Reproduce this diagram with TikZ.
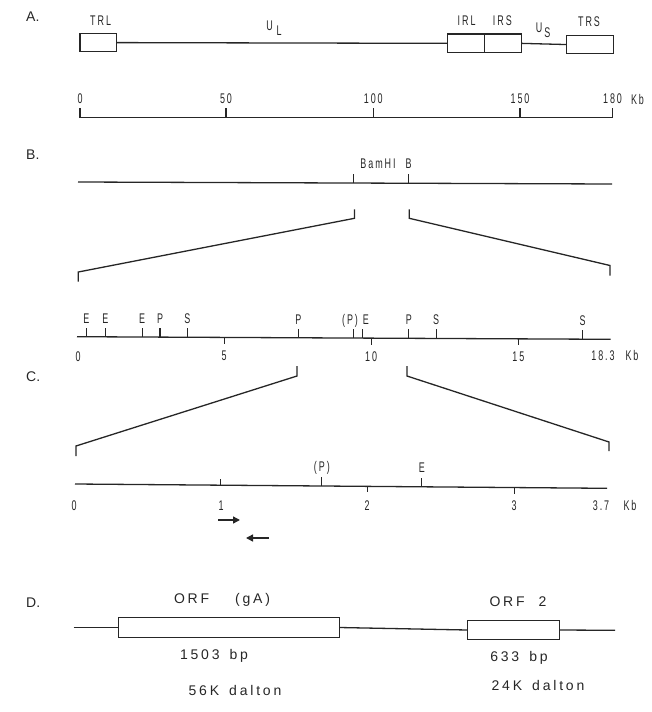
\documentclass[tikz,border=0pt]{standalone}
\usepackage{fontspec}
\setmainfont{Liberation Sans}
% narrow plotter-style lettering for the maps, wide spaced lettering for the ORFs
\newfontfamily\plotfont[FakeStretch=0.64,LetterSpace=14]{Liberation Sans}
\newfontfamily\orffont[LetterSpace=20]{Liberation Sans}
\usetikzlibrary{arrows.meta}

\colorlet{ink}{black!85}
\tikzset{
  dna/.style={draw=ink, line width=1.3pt},
  tick/.style={draw=ink, line width=1.1pt},
  seg/.style={draw=ink, line width=1.2pt, fill=white, inner sep=0pt, outer sep=0pt},
  lbl/.style={inner sep=0pt, text=ink, font=\plotfont\fontsize{14}{14}\selectfont},
  sec/.style={inner sep=0pt, anchor=west, text=ink, font=\fontsize{14}{14}\selectfont},
  orf/.style={inner sep=0pt, text=ink, font=\orffont\fontsize{14}{14}\selectfont},
  primer/.style={draw=ink, line width=1.4pt, -{Triangle[length=7pt,width=7pt]}},
}

\begin{document}
\begin{tikzpicture}[x=1pt,y=-1pt]
\useasboundingbox (0,0) rectangle (651,712);

% ---------------- A: genome organisation ----------------
\node[sec] (secA) at (26,17) {A.};
\node[seg, minimum width=36.6pt, minimum height=18.4pt] (TRL) at (98.3,42.6) {};
\node[seg, minimum width=36.5pt, minimum height=18.7pt] (IRL) at (466.0,43.35) {};
\node[seg, minimum width=36.8pt, minimum height=18.7pt] (IRS) at (502.7,43.35) {};
\node[seg, minimum width=46.8pt, minimum height=17.7pt] (TRS) at (589.9,44.55) {};
\draw[dna] (TRL.east) -- (IRL.west);
\draw[dna] (IRS.east) -- (TRS.west);
\node[lbl] (tTRL) at (100.6,21) {TRL};
\node[lbl] (tIRL) at (466.6,21) {IRL};
\node[lbl] (tIRS) at (502.3,21) {IRS};
\node[lbl] (tTRS) at (589,22) {TRS};
\node[lbl] (tUL) at (274,28) {U\hspace{4pt}\raisebox{-5pt}{L}};
\node[lbl] (tUS) at (543,30) {U\hspace{2pt}\raisebox{-5pt}{S}};

% kilobase scale
\coordinate (a0) at (80,117.6);
\coordinate (a180) at (612.5,117.6);
\draw[dna] (a0) -- (a180);
\foreach \x/\t in {80/0, 226/50, 373.3/100, 520/150, 612.5/180}{
  \draw[tick] (\x,117.6) -- (\x,108);
  \node[lbl] (ka\t) at (\x,99) {\t};
}
\node[lbl] (kaKb) at (637.5,99) {Kb};

% ---------------- B: BamHI B fragment ----------------
\node[sec] (secB) at (26,155) {B.};
\coordinate (b0) at (78,182);
\coordinate (b1) at (612,184);
\draw[dna] (b0) -- (b1);
\path (b0) -- (b1) coordinate[pos=0.5164] (bL) coordinate[pos=0.6194] (bR);
\draw[tick] (bL) -- ++(0,-9.5);
\draw[tick] (bR) -- ++(0,-9.5);
\node[lbl] (tBam) at (378,163.5) {BamHI};
\node[lbl] (tB) at (408.5,163.5) {B};

% expansion of BamHI B
\coordinate (eb1) at (354.5,209.3);
\coordinate (eb2) at (354.5,218.3);
\coordinate (eb3) at (78.3,272);
\coordinate (eb4) at (78.3,281.7);
\draw[dna] (eb1) -- (eb2) -- (eb3) -- (eb4);
\coordinate (fb1) at (409.3,209.3);
\coordinate (fb2) at (409.3,218.3);
\coordinate (fb3) at (610,265.5);
\coordinate (fb4) at (610,275.5);
\draw[dna] (fb1) -- (fb2) -- (fb3) -- (fb4);

% restriction map of BamHI B (18.3 kb)
\coordinate (m0) at (77,336.7);
\coordinate (m1) at (610.7,339.3);
\draw[dna] (m0) -- (m1);
\path (m0) -- (m1)
  coordinate[pos=0.0176] (mE1) coordinate[pos=0.0530] (mE2)
  coordinate[pos=0.1222] (mE3) coordinate[pos=0.1555] (mP1)
  coordinate[pos=0.2070] (mS1) coordinate[pos=0.4148] (mP2)
  coordinate[pos=0.5181] (mPp) coordinate[pos=0.5349] (mE4)
  coordinate[pos=0.6219] (mP3) coordinate[pos=0.6728] (mS2)
  coordinate[pos=0.9472] (mS3)
  coordinate[pos=0.2756] (m5) coordinate[pos=0.5512] (m10)
  coordinate[pos=0.8269] (m15);
\foreach \c/\t in {mE1/E, mE2/E, mE3/E, mP1/P, mS1/S, mP2/P, mP3/P, mS2/S, mS3/S}{
  \draw[tick] (\c) -- ++(0,-9) node[lbl, anchor=base, yshift=4.5pt] {\t};
}
\draw[tick] (mPp) -- ++(0,-9) node[lbl, anchor=base, yshift=4.5pt, xshift=-3.5pt] {(P)};
\draw[tick] (mE4) -- ++(0,-9) node[lbl, anchor=base, yshift=4.5pt, xshift=3.5pt] {E};
\foreach \c in {m5, m10, m15}{
  \draw[tick] (\c) -- ++(0,6.5);
}
\node[lbl, anchor=base] (n0) at (78,361) {0};
\node[lbl, anchor=base] (n5) at ([yshift=-23pt]m5) {5};
\node[lbl, anchor=base] (n10) at ([yshift=-23pt]m10) {10};
\node[lbl, anchor=base] (n15) at ([yshift=-23pt]m15) {15};
\node[lbl, anchor=base] (n18) at (603,360) {18.3};
\node[lbl, anchor=base] (nKb) at (632,360) {Kb};

% ---------------- C: 3.7 kb PstI fragment ----------------
\node[sec] (secC) at (26,377) {C.};
\coordinate (ec1) at (297,366);
\coordinate (ec2) at (297,376);
\coordinate (ec3) at (76,446);
\coordinate (ec4) at (76,456);
\draw[dna] (ec1) -- (ec2) -- (ec3) -- (ec4);
\coordinate (fc1) at (407,366);
\coordinate (fc2) at (407,376);
\coordinate (fc3) at (609,442);
\coordinate (fc4) at (609,451);
\draw[dna] (fc1) -- (fc2) -- (fc3) -- (fc4);

\coordinate (c0) at (75,484);
\coordinate (c1) at (607,488.3);
\draw[dna] (c0) -- (c1);
\path (c0) -- (c1)
  coordinate[pos=0.2727] (c1k) coordinate[pos=0.5490] (c2k)
  coordinate[pos=0.8256] (c3k) coordinate[pos=0.4641] (cPp)
  coordinate[pos=0.6519] (cE);
\draw[tick] (c1k) -- ++(0,-6);
\draw[tick] (c2k) -- ++(0,6);
\draw[tick] (c3k) -- ++(0,6);
\draw[tick] (cPp) -- ++(0,-9) node[lbl, anchor=base, yshift=5.5pt] {(P)};
\draw[tick] (cE) -- ++(0,-9) node[lbl, anchor=base, yshift=5.5pt] {E};
\node[lbl, anchor=base] (o0) at (74,510) {0};
\node[lbl, anchor=base] (o1) at (221,510) {1};
\node[lbl, anchor=base] (o2) at (367,510) {2};
\node[lbl, anchor=base] (o3) at (514,510) {3};
\node[lbl, anchor=base] (o37) at (601,510) {3.7};
\node[lbl, anchor=base] (oKb) at (630,510) {Kb};

% primers
\coordinate (pa) at (218,520);
\coordinate (pb) at (240,520);
\draw[primer] (pa) -- (pb);
\coordinate (pc) at (269,538);
\coordinate (pd) at (246,538);
\draw[primer] (pc) -- (pd);

% ---------------- D: open reading frames ----------------
\node[sec] (secD) at (26,603) {D.};
\node[seg, minimum width=220.7pt, minimum height=19.3pt] (orfA) at (229.05,627.5) {};
\node[seg, minimum width=92.2pt, minimum height=19pt] (orfB) at (513.4,630) {};
\coordinate (d0) at (73.6,627.5);
\coordinate (d1) at (615,630.3);
\draw[dna] (d0) -- (orfA.west);
\draw[dna] (orfA.east) -- (orfB.west);
\draw[dna] (orfB.east) -- (d1);
\node[orf] (tgA) at (222,600) {ORF\hspace{26pt}(gA)};
\node[orf] (t2) at (518,602) {ORF\hspace{14pt}2};
\node[orf] (tbpA) at (214,656) {1503\hspace{10pt}bp};
\node[orf] (tkdA) at (235,690) {56K\hspace{10pt}dalton};
\node[orf] (tbpB) at (519,658) {633\hspace{10pt}bp};
\node[orf] (tkdB) at (538,685) {24K\hspace{10pt}dalton};
\end{tikzpicture}
\end{document}
